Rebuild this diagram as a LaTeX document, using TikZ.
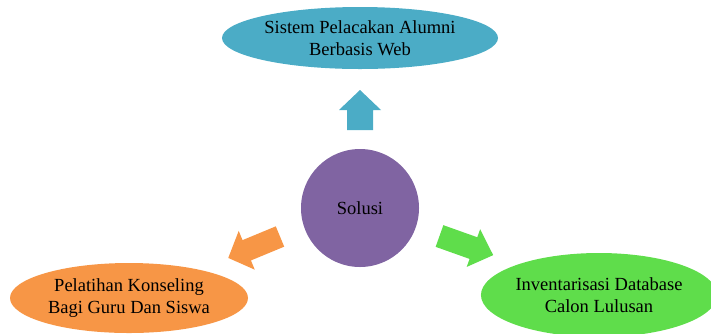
\documentclass[tikz,border=0pt]{standalone}
\usepackage{fontspec}
\setmainfont{Liberation Serif}
\usepackage{xcolor}
\usetikzlibrary{shapes.geometric}

\definecolor{solblue}{HTML}{4BACC6}
\definecolor{solpurple}{HTML}{8064A2}
\definecolor{solorange}{HTML}{F79646}
\definecolor{solgreen}{HTML}{5FDD4B}

\begin{document}
\begin{tikzpicture}[x=1pt,y=1pt,yscale=-1,
    goal/.style={ellipse, inner sep=0pt, align=center, font=\fontsize{18.5}{22}\selectfont},
    hub/.style={circle, inner sep=0pt, fill=solpurple, minimum size=118pt, font=\fontsize{18.5}{22}\selectfont}]
        \useasboundingbox (0,0) rectangle (711,333);
        \clip (0,0) rectangle (711,333);

        %Shape: Circle
        \node [hub] (solusi) at (360,208) {Solusi};

        %Shape: Ellipse
        \node [goal, fill=solblue, minimum width=276pt, minimum height=62pt] (alumni) at (360,38) {Sistem Pelacakan Alumni\\Berbasis Web};
        %Shape: Ellipse
        \node [goal, fill=solorange, minimum width=238pt, minimum height=70pt] (konseling) at (129,298) {Pelatihan Konseling\\Bagi Guru Dan Siswa};
        %Shape: Ellipse
        \node [goal, fill=solgreen, minimum width=226pt, minimum height=84pt] (database) at (599,295) {Inventarisasi Database\\Calon Lulusan};

        %Shape: Right Arrow
        \begin{scope}[shift={(360,130)}, rotate=-90]
        \fill [solblue] (0,-13) -- (20,-13) -- (20,-21) -- (40,0) -- (20,21) -- (20,13) -- (0,13) -- cycle ;
        \end{scope}
        %Shape: Right Arrow
        \begin{scope}[shift={(280,236.5)}, rotate=157.5]
        \fill [solorange] (0,-11) -- (36,-11) -- (36,-21) -- (56,0) -- (36,21) -- (36,11) -- (0,11) -- cycle ;
        \end{scope}
        %Shape: Right Arrow
        \begin{scope}[shift={(439.5,236)}, rotate=19.6]
        \fill [solgreen] (0,-11.5) -- (36,-11.5) -- (36,-20) -- (57,0) -- (36,20) -- (36,11.5) -- (0,11.5) -- cycle ;
        \end{scope}

\end{tikzpicture}
\end{document}
